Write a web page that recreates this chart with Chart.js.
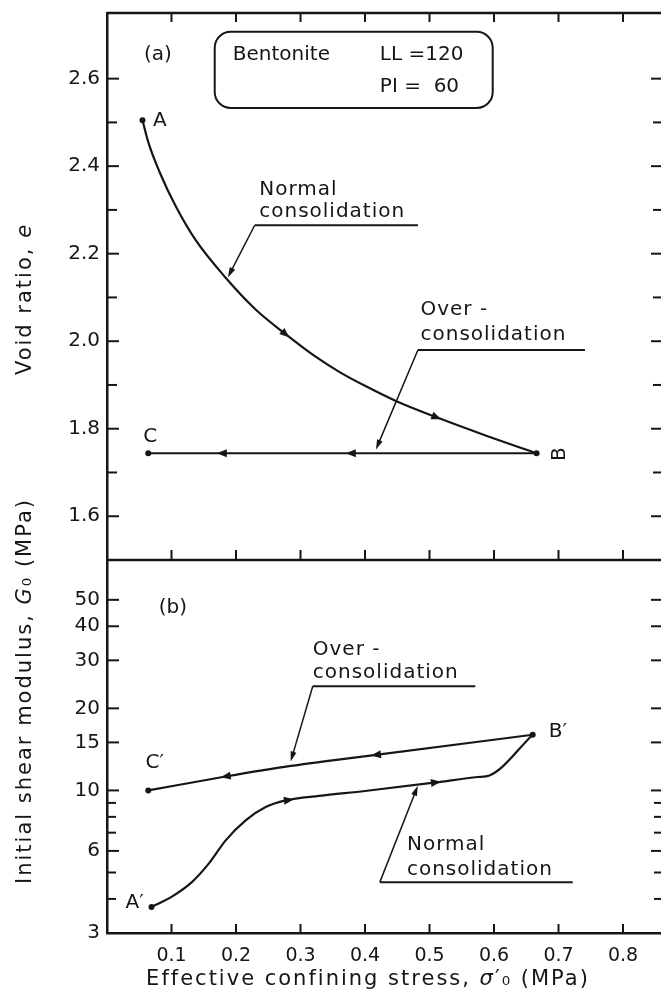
<!DOCTYPE html>
<html>
<head>
<meta charset="utf-8">
<script src="https://cdn.jsdelivr.net/npm/chart.js@4.4.1/dist/chart.umd.min.js"></script>
<style>
  html, body { margin: 0; padding: 0; background: #fff; overflow: hidden; }
  #wrap { width: 668px; height: 997px; }
</style>
</head>
<body>
<div id="wrap"><canvas id="grafico"></canvas></div>
<script>
// eixos
const stressTicks = [0.1, 0.2, 0.3, 0.4, 0.5, 0.6, 0.7, 0.8];
const voidTicks = [1.6, 1.8, 2.0, 2.2, 2.4, 2.6];
const voidMinor = [1.7, 1.9, 2.1, 2.3, 2.5];
const modulusTicks = [3, 6, 10, 15, 20, 30, 40, 50];
const modulusMinor = [4, 5, 7, 8, 9];

// (a) void ratio
const ncTopStress = [0.055, 0.064, 0.082, 0.106, 0.137, 0.184, 0.230, 0.277, 0.32, 0.36, 0.40, 0.447, 0.511, 0.588, 0.666];
const ncTopVoid = [2.505, 2.455, 2.385, 2.31, 2.232, 2.145, 2.073, 2.016, 1.968, 1.93, 1.898, 1.864, 1.826, 1.784, 1.744];
const ocTopStress = [0.064, 0.666];
const ocTopVoid = [1.744, 1.744];

// (b) initial shear modulus
const ncBotStress = [0.069, 0.100, 0.132, 0.158, 0.184, 0.215, 0.246, 0.277, 0.329, 0.40, 0.51, 0.575, 0.593, 0.66];
const ncBotModulus = [3.74, 4.07, 4.62, 5.40, 6.56, 7.77, 8.69, 9.19, 9.55, 9.95, 10.7, 11.2, 11.35, 16.0];
const ocBotStress = [0.064, 0.184, 0.285, 0.34, 0.417, 0.66];
const ocBotModulus = [10.0, 11.25, 12.3, 12.8, 13.5, 16.0];

// setas de direcao sobre as curvas (tensao)
const ncTopArrows = [0.277, 0.511];
const ocTopArrows = [0.378, 0.178];
const ncBotArrows = [0.282, 0.510];
const ocBotArrows = [0.417, 0.184];

const ink = '#161616';
const fonte = "'DejaVu Sans', sans-serif";

const pts = (xs, ys) => xs.map((x, i) => ({ x: x, y: ys[i] }));
const dots = (ids) => (ctx) => ids.includes(ctx.dataIndex) ? 3 : 0;

// textos e chamadas
const notas = [
    { axis: 'yTop', x: 0.079, y: 2.654, text: '(a)', align: 'center' },
    { axis: 'yTop', x: 0.195, y: 2.654, text: 'Bentonite', align: 'left' },
    { axis: 'yTop', x: 0.423, y: 2.654, text: 'LL =120', align: 'left' },
    { axis: 'yTop', x: 0.423, y: 2.581, text: 'PI =  60', align: 'left' },
    { axis: 'yTop', x: 0.082, y: 2.503, text: 'A', align: 'center' },
    { axis: 'yTop', x: 0.067, y: 1.781, text: 'C', align: 'center' },
    { axis: 'yTop', x: 0.702, y: 1.742, text: 'B', align: 'center', rot: true },
    { axis: 'yBot', x: 0.102, y: 46.8, text: '(b)', align: 'center' },
    { axis: 'yBot', x: 0.074, y: 12.6, text: 'C′', align: 'center' },
    { axis: 'yBot', x: 0.043, y: 3.86, text: 'A′', align: 'center' },
    { axis: 'yBot', x: 0.699, y: 16.4, text: 'B′', align: 'center' }
];

const chamadas = [
    { axis: 'yTop', x: 0.236, lines: [['Normal', 2.345], ['consolidation', 2.295]], under: [0.229, 0.482, 2.265], tip: [0.191, 2.156] },
    { axis: 'yTop', x: 0.486, lines: [['Over -', 2.071], ['consolidation', 2.014]], under: [0.482, 0.741, 1.980], tip: [0.420, 1.763] },
    { axis: 'yBot', x: 0.319, lines: [['Over -', 32.7], ['consolidation', 26.9]], under: [0.319, 0.571, 24.1], tip: [0.287, 13.3] },
    { axis: 'yBot', x: 0.465, lines: [['Normal', 6.3], ['consolidation', 5.1]], under: [0.423, 0.722, 4.61], tip: [0.479, 10.0] }
];

function line(ctx, x1, y1, x2, y2) {
    ctx.beginPath();
    ctx.moveTo(x1, y1);
    ctx.lineTo(x2, y2);
    ctx.stroke();
}

function arrowHead(ctx, x, y, ang, len, half) {
    ctx.save();
    ctx.translate(x, y);
    ctx.rotate(ang);
    ctx.beginPath();
    ctx.moveTo(len / 2, 0);
    ctx.lineTo(-len / 2, -half);
    ctx.lineTo(-len / 2, half);
    ctx.closePath();
    ctx.fill();
    ctx.restore();
}

function seriesArrows(ctx, sx, sy, xs, ys, where, dir) {
    const p = xs.map((v, i) => [sx.getPixelForValue(v), sy.getPixelForValue(ys[i])]);
    where.forEach(w => {
        const px = sx.getPixelForValue(w);
        for (let i = 0; i < p.length - 1; i++) {
            if (px >= p[i][0] && px <= p[i + 1][0]) {
                const t = (px - p[i][0]) / (p[i + 1][0] - p[i][0]);
                const py = p[i][1] + t * (p[i + 1][1] - p[i][1]);
                let ang = Math.atan2(p[i + 1][1] - p[i][1], p[i + 1][0] - p[i][0]);
                if (dir < 0) ang += Math.PI;
                arrowHead(ctx, px, py, ang, 10, 4);
                break;
            }
        }
    });
}

// texto com partes em italico
function runs(ctx, parts, cx, cy, rot) {
    ctx.save();
    ctx.translate(cx, cy);
    if (rot) ctx.rotate(-Math.PI / 2);
    ctx.letterSpacing = '2px';
    ctx.textBaseline = 'middle';
    ctx.textAlign = 'left';
    let total = 0;
    parts.forEach(p => { ctx.font = p[1]; total += ctx.measureText(p[0]).width; });
    let x = -total / 2;
    parts.forEach(p => { ctx.font = p[1]; ctx.fillText(p[0], x, 0); x += ctx.measureText(p[0]).width; });
    ctx.restore();
}

const desenho = {
    id: 'desenho',
    afterDraw(chart) {
        const { ctx, chartArea: a, scales } = chart;
        const sx = scales.x, st = scales.yTop, sb = scales.yBot;
        ctx.save();
        ctx.strokeStyle = ink;
        ctx.fillStyle = ink;

        // moldura
        ctx.lineWidth = 2.5;
        line(ctx, a.left, a.top, a.right, a.top);
        line(ctx, a.left, st.bottom, a.right, st.bottom);
        line(ctx, a.right, a.top, a.right, a.bottom);

        // marcas para dentro
        ctx.lineWidth = 2;
        voidTicks.forEach(v => {
            const y = st.getPixelForValue(v);
            line(ctx, a.left, y, a.left + 12, y);
            line(ctx, a.right - 12, y, a.right, y);
        });
        voidMinor.forEach(v => {
            const y = st.getPixelForValue(v);
            line(ctx, a.left, y, a.left + 10, y);
            line(ctx, a.right - 10, y, a.right, y);
        });
        modulusTicks.slice(1).forEach(v => {
            const y = sb.getPixelForValue(v);
            line(ctx, a.left, y, a.left + 12, y);
            line(ctx, a.right - 12, y, a.right, y);
        });
        modulusMinor.forEach(v => {
            const y = sb.getPixelForValue(v);
            line(ctx, a.left, y, a.left + 9, y);
            line(ctx, a.right - 9, y, a.right, y);
        });
        stressTicks.forEach(v => {
            const px = sx.getPixelForValue(v);
            line(ctx, px, a.top, px, a.top + 9);
            line(ctx, px, st.bottom - 10, px, st.bottom);
            line(ctx, px, a.bottom - 9, px, a.bottom);
        });

        // setas nas curvas
        seriesArrows(ctx, sx, st, ncTopStress, ncTopVoid, ncTopArrows, 1);
        seriesArrows(ctx, sx, st, ocTopStress, ocTopVoid, ocTopArrows, -1);
        seriesArrows(ctx, sx, sb, ncBotStress, ncBotModulus, ncBotArrows, 1);
        seriesArrows(ctx, sx, sb, ocBotStress, ocBotModulus, ocBotArrows, -1);

        // caixa do material
        ctx.lineWidth = 2;
        const bx1 = sx.getPixelForValue(0.167), bx2 = sx.getPixelForValue(0.598);
        const by1 = st.getPixelForValue(2.707), by2 = st.getPixelForValue(2.533);
        ctx.beginPath();
        ctx.roundRect(bx1, by1, bx2 - bx1, by2 - by1, 16);
        ctx.stroke();

        // rotulos
        ctx.font = '20px ' + fonte;
        ctx.textBaseline = 'middle';
        notas.forEach(n => {
            const x = sx.getPixelForValue(n.x), y = scales[n.axis].getPixelForValue(n.y);
            ctx.textAlign = n.align;
            if (n.rot) {
                ctx.save();
                ctx.translate(x, y);
                ctx.rotate(-Math.PI / 2);
                ctx.fillText(n.text, 0, 0);
                ctx.restore();
            } else {
                ctx.fillText(n.text, x, y);
            }
        });

        // chamadas sublinhadas
        ctx.textAlign = 'left';
        ctx.letterSpacing = '1px';
        chamadas.forEach(c => {
            const s = scales[c.axis];
            c.lines.forEach(l => ctx.fillText(l[0], sx.getPixelForValue(c.x), s.getPixelForValue(l[1])));
            const uy = s.getPixelForValue(c.under[2]);
            const ux1 = sx.getPixelForValue(c.under[0]), ux2 = sx.getPixelForValue(c.under[1]);
            const tx = sx.getPixelForValue(c.tip[0]), ty = s.getPixelForValue(c.tip[1]);
            ctx.lineWidth = 2;
            line(ctx, ux1, uy, ux2, uy);
            ctx.lineWidth = 1.5;
            line(ctx, ux1, uy, tx, ty);
            arrowHead(ctx, tx, ty, Math.atan2(ty - uy, tx - ux1), 10, 3);
        });
        ctx.letterSpacing = '0px';

        // titulos dos eixos
        const reg = '21px ' + fonte, ita = 'italic 21px ' + fonte;
        runs(ctx, [['Void ratio, ', reg], ['e', ita]], 26, 299, true);
        runs(ctx, [['Initial shear modulus, ', reg], ['G', ita], ['₀ (MPa)', reg]], 26, 691, true);
        runs(ctx, [['Effective confining stress, ', reg], ['σ', ita], ['′₀ (MPa)', reg]], 368, 980, false);

        ctx.restore();
    }
};

const grafico = document.getElementById('grafico');

new Chart(grafico, {
    type: 'line',
    data: {
        datasets: [
            {
                label: 'Normal consolidation (a)',
                data: pts(ncTopStress, ncTopVoid),
                yAxisID: 'yTop',
                borderColor: ink,
                borderWidth: 2.2,
                cubicInterpolationMode: 'monotone',
                pointRadius: dots([0, ncTopStress.length - 1]),
                pointBackgroundColor: ink,
                pointBorderWidth: 0
            },
            {
                label: 'Over-consolidation (a)',
                data: pts(ocTopStress, ocTopVoid),
                yAxisID: 'yTop',
                borderColor: ink,
                borderWidth: 2.2,
                pointRadius: dots([0]),
                pointBackgroundColor: ink,
                pointBorderWidth: 0
            },
            {
                label: 'Normal consolidation (b)',
                data: pts(ncBotStress, ncBotModulus),
                yAxisID: 'yBot',
                borderColor: ink,
                borderWidth: 2.2,
                cubicInterpolationMode: 'monotone',
                pointRadius: dots([0, ncBotStress.length - 1]),
                pointBackgroundColor: ink,
                pointBorderWidth: 0
            },
            {
                label: 'Over-consolidation (b)',
                data: pts(ocBotStress, ocBotModulus),
                yAxisID: 'yBot',
                borderColor: ink,
                borderWidth: 2.2,
                cubicInterpolationMode: 'monotone',
                pointRadius: dots([0]),
                pointBackgroundColor: ink,
                pointBorderWidth: 0
            }
        ]
    },
    options: {
        responsive: true,
        maintainAspectRatio: false,
        animation: false,
        layout: {
            padding: { top: 13, right: 5, left: 0, bottom: 0 }
        },
        scales: {
            x: {
                type: 'linear',
                min: 0,
                max: 0.862,
                grid: { display: false, drawTicks: false },
                border: { display: true, width: 2.5, color: ink },
                afterBuildTicks: s => { s.ticks = stressTicks.map(v => ({ value: v })); },
                afterFit: s => { s.height = 64; s.paddingLeft = 0; s.paddingRight = 0; },
                ticks: {
                    autoSkip: false,
                    maxRotation: 0,
                    padding: 12,
                    color: ink,
                    font: { family: 'DejaVu Sans', size: 19 },
                    callback: v => v.toFixed(1)
                }
            },
            // o eixo definido por ultimo fica em cima na pilha
            yBot: {
                type: 'logarithmic',
                position: 'left',
                stack: 'paineis',
                stackWeight: 373,
                min: 3,
                max: 70,
                grid: { display: false, drawTicks: false },
                border: { display: true, width: 2.5, color: ink },
                afterBuildTicks: s => { s.ticks = modulusTicks.map(v => ({ value: v })); },
                afterFit: s => { s.width = 107; s.paddingTop = 0; s.paddingBottom = 0; },
                ticks: {
                    autoSkip: false,
                    padding: 7,
                    color: ink,
                    font: { family: 'DejaVu Sans', size: 20 },
                    callback: v => String(v)
                }
            },
            yTop: {
                type: 'linear',
                position: 'left',
                stack: 'paineis',
                stackWeight: 547,
                min: 1.5,
                max: 2.75,
                grid: { display: false, drawTicks: false },
                border: { display: true, width: 2.5, color: ink },
                afterBuildTicks: s => { s.ticks = voidTicks.map(v => ({ value: v })); },
                afterFit: s => { s.width = 107; s.paddingTop = 0; s.paddingBottom = 0; },
                ticks: {
                    autoSkip: false,
                    padding: 7,
                    color: ink,
                    font: { family: 'DejaVu Sans', size: 20 },
                    callback: v => v.toFixed(1)
                }
            }
        },
        plugins: {
            legend: { display: false },
            tooltip: { enabled: false }
        }
    },
    plugins: [desenho]
});
</script>
</body>
</html>
